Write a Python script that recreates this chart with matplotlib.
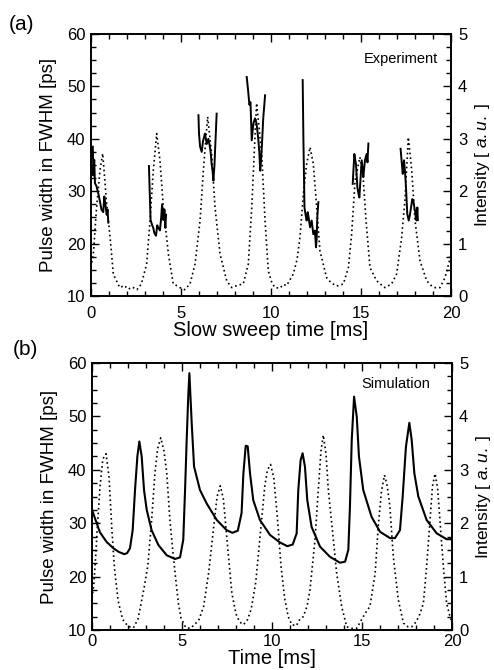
import numpy as np
import matplotlib
matplotlib.use("Agg")
import matplotlib.pyplot as plt
from matplotlib.ticker import MultipleLocator

plt.rcParams['font.family'] = ['Liberation Sans', 'DejaVu Sans']
plt.rcParams['mathtext.fontset'] = 'custom'
plt.rcParams['mathtext.it'] = 'Liberation Sans:italic'
plt.rcParams['mathtext.rm'] = 'Liberation Sans'

nan = np.nan

# (a) experiment: pulse width [ps], measured only near the intensity peaks (nan = gap)
exp_t = [0.10, 0.13, 0.18, 0.22, 0.30, 0.41, 0.50, 0.58, 0.68, 0.74, 0.80, 0.87, 0.92, 0.96, nan,
         3.22, 3.26, 3.31, 3.40, 3.46, 3.52, 3.61, 3.68, 3.74, 3.83, 3.90, 3.95, 4.02, 4.08, 4.13, 4.17, nan,
         5.97, 6.00, 6.06, 6.15, 6.22, 6.33, 6.43, 6.52, 6.61, 6.66, 6.70, 6.75, 6.80, 6.86, 6.90, 6.94, 6.98, nan,
         8.65, 8.72, 8.80, 8.86, 8.93, 9.02, 9.11, 9.20, 9.30, 9.35, 9.40, 9.45, 9.50, 9.57, 9.62, 9.67, nan,
         11.76, 11.80, 11.86, 11.92, 11.98, 12.04, 12.10, 12.17, 12.26, 12.35, 12.44, 12.50, 12.54, 12.57, 12.63, nan,
         14.54, 14.58, 14.63, 14.68, 14.72, 14.80, 14.86, 14.91, 14.98, 15.04, 15.13, 15.18, 15.22, 15.31, 15.36, 15.41, nan,
         17.20, 17.25, 17.32, 17.36, 17.39, 17.45, 17.50, 17.57, 17.65, 17.72, 17.78, 17.85, 17.91, 17.96, 18.00, 18.05, 18.09, 18.13, 18.16]
exp_w = [38.5, 33.0, 36.0, 31.5, 31.0, 29.5, 28.0, 26.5, 26.0, 29.0, 27.5, 25.5, 26.5, 24.0, nan,
         34.8, 30.0, 24.5, 23.5, 23.0, 22.0, 21.5, 23.5, 23.0, 22.5, 25.0, 27.5, 24.5, 26.5, 23.0, 25.5, nan,
         44.5, 41.0, 38.5, 37.5, 39.5, 41.0, 39.0, 40.0, 38.4, 37.0, 35.2, 34.0, 32.0, 35.0, 38.4, 41.5, 44.8, nan,
         51.8, 49.5, 46.5, 47.0, 39.7, 42.9, 43.9, 42.9, 39.7, 37.5, 33.9, 36.0, 39.1, 44.0, 46.1, 48.3, nan,
         51.2, 40.0, 26.9, 25.5, 24.4, 26.0, 24.8, 23.1, 24.4, 21.8, 22.5, 19.3, 21.0, 25.0, 27.9, nan,
         31.4, 34.0, 37.1, 36.0, 35.2, 30.7, 29.5, 28.8, 32.7, 35.9, 32.7, 34.5, 35.9, 37.1, 35.5, 39.1, nan,
         38.1, 36.0, 33.3, 35.0, 35.9, 33.5, 30.7, 25.7, 24.4, 25.5, 26.9, 28.5, 28.2, 27.0, 26.3, 24.8, 24.4, 26.9, 24.5]

# (a) experiment: intensity [a.u.]
exp_it = [0.00, 0.13, 0.31, 0.50, 0.65, 0.87, 1.06, 1.24, 1.40, 1.60, 1.85, 2.07, 2.30, 2.55, 2.80, 3.09, 3.28, 3.46, 3.65,
          3.83, 4.02, 4.30, 4.57, 4.75, 4.94, 5.20, 5.50, 5.78, 6.06, 6.24, 6.48, 6.70, 6.89, 7.17, 7.54, 7.82, 8.10,
          8.46, 8.74, 8.93, 9.11, 9.20, 9.48, 9.67, 9.85, 10.05, 10.22, 10.50, 10.68, 10.87, 11.24, 11.45, 11.61, 11.80,
          11.98, 12.17, 12.35, 12.54, 12.72, 13.09, 13.35, 13.65, 14.02, 14.30, 14.48, 14.67, 14.94, 15.13, 15.28, 15.50,
          15.87, 16.10, 16.33, 16.70, 16.98, 17.26, 17.44, 17.63, 17.82, 18.00, 18.28, 18.65, 18.90, 19.11, 19.39, 19.67,
          19.86, 20.00]
exp_iv = [0.55, 0.80, 1.69, 2.40, 2.72, 1.76, 1.12, 0.42, 0.30, 0.16, 0.20, 0.13, 0.17, 0.12, 0.23, 0.61, 1.44, 2.39, 3.10,
          2.59, 1.69, 0.80, 0.23, 0.20, 0.16, 0.12, 0.23, 0.61, 1.44, 2.39, 3.42, 2.72, 1.69, 0.80, 0.29, 0.16, 0.20,
          0.23, 0.61, 1.69, 3.04, 3.68, 2.72, 1.44, 0.48, 0.25, 0.16, 0.15, 0.22, 0.20, 0.42, 0.70, 1.12, 1.95,
          2.52, 2.84, 2.52, 1.69, 0.86, 0.35, 0.25, 0.19, 0.23, 0.54, 1.18, 2.20, 2.65, 2.20, 1.44, 0.54,
          0.29, 0.22, 0.16, 0.23, 0.42, 1.12, 1.83, 3.03, 2.39, 1.44, 0.67, 0.29, 0.20, 0.16, 0.16, 0.35,
          0.60, 0.80]

# (b) simulation: pulse width [ps]
sim_t = [0.00, 0.44, 0.81, 1.19, 1.50, 1.80, 1.95, 2.11, 2.26, 2.39, 2.52, 2.63, 2.76, 2.89, 3.04, 3.31, 3.69, 4.15, 4.61,
         4.89, 5.07, 5.17, 5.26, 5.35, 5.41, 5.48, 5.54, 5.67, 6.00, 6.37, 6.93, 7.48, 7.80, 8.10, 8.31, 8.41, 8.54,
         8.65, 8.78, 8.96, 9.33, 9.89, 10.44, 10.85, 11.15, 11.37, 11.46, 11.59, 11.70, 11.83, 11.96, 12.20, 12.67,
         13.22, 13.78, 14.06, 14.24, 14.33, 14.43, 14.56, 14.71, 14.83, 15.07, 15.53, 16.00, 16.56, 16.83, 17.11,
         17.26, 17.44, 17.63, 17.76, 17.91, 18.13, 18.59, 19.15, 19.70, 20.00]
sim_w = [32.5, 28.3, 26.5, 25.3, 24.6, 24.2, 24.4, 25.3, 28.7, 36.2, 42.5, 45.3, 42.5, 36.2, 32.5, 28.7, 25.9, 24.0, 23.3,
         23.6, 26.9, 36.2, 45.6, 54.0, 58.1, 53.0, 48.7, 40.6, 36.2, 33.7, 30.6, 28.7, 28.2, 28.6, 31.9, 39.3, 44.5,
         44.4, 39.3, 34.3, 30.6, 27.8, 26.4, 25.7, 26.0, 28.1, 36.2, 41.8, 43.1, 40.6, 34.3, 29.3, 25.6,
         23.7, 22.6, 22.8, 25.0, 33.1, 45.6, 53.7, 49.9, 42.5, 36.2, 31.2, 28.4, 27.2, 27.2, 28.7,
         35.0, 44.3, 48.8, 45.6, 39.3, 35.0, 30.6, 28.1, 27.0, 27.0]

# (b) simulation: intensity [a.u.]
sim_it = [0.00, 0.10, 0.20, 0.30, 0.45, 0.60, 0.78, 0.95, 1.10, 1.25, 1.45, 1.70, 2.00, 2.30, 2.55, 2.70, 2.90, 3.10,
          3.30, 3.50, 3.65, 3.82, 4.00, 4.15, 4.33, 4.50, 4.62, 4.80, 4.95, 5.20, 5.45, 5.70, 5.95, 6.20, 6.48, 6.76,
          6.95, 7.13, 7.30, 7.50, 7.77, 8.00, 8.20, 8.42, 8.65, 8.85, 9.10, 9.35, 9.60, 9.75, 9.92, 10.10, 10.30,
          10.50, 10.70, 10.90, 11.10, 11.35, 11.55, 11.74, 11.95, 12.11, 12.39, 12.57, 12.72, 12.85, 13.00, 13.13,
          13.41, 13.59, 13.87, 14.15, 14.40, 14.70, 15.07, 15.25, 15.44, 15.73, 15.90, 16.08, 16.25, 16.40, 16.55,
          16.74, 17.02, 17.30, 17.55, 17.76, 18.00, 18.22, 18.41, 18.59, 18.78, 18.92, 19.06, 19.20, 19.33, 19.52,
          19.70, 19.89, 20.00]
sim_iv = [0.60, 0.85, 1.35, 1.95, 2.70, 3.20, 3.30, 2.85, 1.90, 1.15, 0.55, 0.20, 0.07, 0.04, 0.20, 0.45, 0.80, 1.20,
          2.00, 2.95, 3.40, 3.60, 3.35, 2.95, 2.05, 1.45, 1.05, 0.50, 0.22, 0.05, 0.03, 0.10, 0.20, 0.44, 1.07, 1.93,
          2.50, 2.70, 2.45, 1.69, 0.69, 0.30, 0.15, 0.10, 0.20, 0.40, 0.90, 1.80, 2.70, 3.00, 3.10, 2.85, 2.10,
          1.20, 0.60, 0.25, 0.10, 0.08, 0.20, 0.25, 0.45, 0.75, 1.69, 2.62, 3.35, 3.65, 3.30, 2.62,
          1.69, 1.07, 0.44, 0.06, 0.03, 0.03, 0.25, 0.35, 0.44, 1.06, 1.93, 2.60, 2.90, 2.70, 2.31,
          1.37, 0.56, 0.13, 0.06, 0.06, 0.15, 0.30, 0.50, 1.19, 2.06, 2.70, 2.93, 2.65, 2.06, 1.19,
          0.50, 0.25, 0.15]

dot_style = (0, (1.0, 1.8))


def style(ax, ax2, xlabel, xpad):
    ax.set_xlim(0, 20)
    ax.set_ylim(10, 60)
    ax2.set_ylim(0, 5)
    ax.xaxis.set_major_locator(MultipleLocator(5))
    ax.xaxis.set_minor_locator(MultipleLocator(1))
    ax.yaxis.set_major_locator(MultipleLocator(10))
    ax.yaxis.set_minor_locator(MultipleLocator(2.5))
    ax2.yaxis.set_major_locator(MultipleLocator(1))
    ax2.yaxis.set_minor_locator(MultipleLocator(0.25))
    ax.tick_params(axis='both', which='both', direction='in', top=True, right=False, width=1.0)
    ax.tick_params(axis='x', which='major', length=6, pad=xpad, labelsize=12)
    ax.tick_params(axis='y', which='major', length=6, pad=4, labelsize=12)
    ax.tick_params(which='minor', length=3.5)
    ax2.tick_params(axis='y', which='both', direction='in', width=1.0, labelsize=12, pad=5)
    ax2.tick_params(axis='y', which='major', length=6)
    ax2.tick_params(axis='y', which='minor', length=3.5)
    for a in (ax, ax2):
        for s in a.spines.values():
            s.set_linewidth(1.2)
    ax.set_xlabel(xlabel, fontsize=14.5, labelpad=0)
    ax.set_ylabel('Pulse width in FWHM [ps]', fontsize=13.5, labelpad=7)
    ax2.set_ylabel(r'Intensity [ $\mathit{a.u.}$ ]', fontsize=12.5)
    ax2.yaxis.set_label_coords(1.06, 0.5)


fig = plt.figure(figsize=(4.94, 6.70), dpi=100)

# panel (a)
ax_a = fig.add_axes([91 / 494, 1 - 296 / 670, 360 / 494, 262 / 670])
ax_a2 = ax_a.twinx()
ax_a2.plot(exp_it, exp_iv, color='black', lw=1.2, linestyle=dot_style)
ax_a.plot(exp_t, exp_w, color='black', lw=1.4)
ax_a.set_zorder(ax_a2.get_zorder() + 1)
ax_a.patch.set_visible(False)
style(ax_a, ax_a2, 'Slow sweep time [ms]', 7)
ax_a.text(0.964, 0.905, 'Experiment', transform=ax_a.transAxes, ha='right', va='center', fontsize=10.5)
fig.text(22 / 494, 1 - 24 / 670, '(a)', ha='center', va='center', fontsize=15)

# panel (b)
ax_b = fig.add_axes([92 / 494, 1 - 630 / 670, 360 / 494, 267 / 670])
ax_b2 = ax_b.twinx()
ax_b2.plot(sim_it, sim_iv, color='black', lw=1.2, linestyle=dot_style)
ax_b.plot(sim_t, sim_w, color='black', lw=1.5)
ax_b.set_zorder(ax_b2.get_zorder() + 1)
ax_b.patch.set_visible(False)
style(ax_b, ax_b2, 'Time [ms]', 3)
ax_b.text(0.939, 0.92, 'Simulation', transform=ax_b.transAxes, ha='right', va='center', fontsize=10.5)
fig.text(25 / 494, 1 - 350 / 670, '(b)', ha='center', va='center', fontsize=15)

fig.savefig('out.png', dpi=100)
